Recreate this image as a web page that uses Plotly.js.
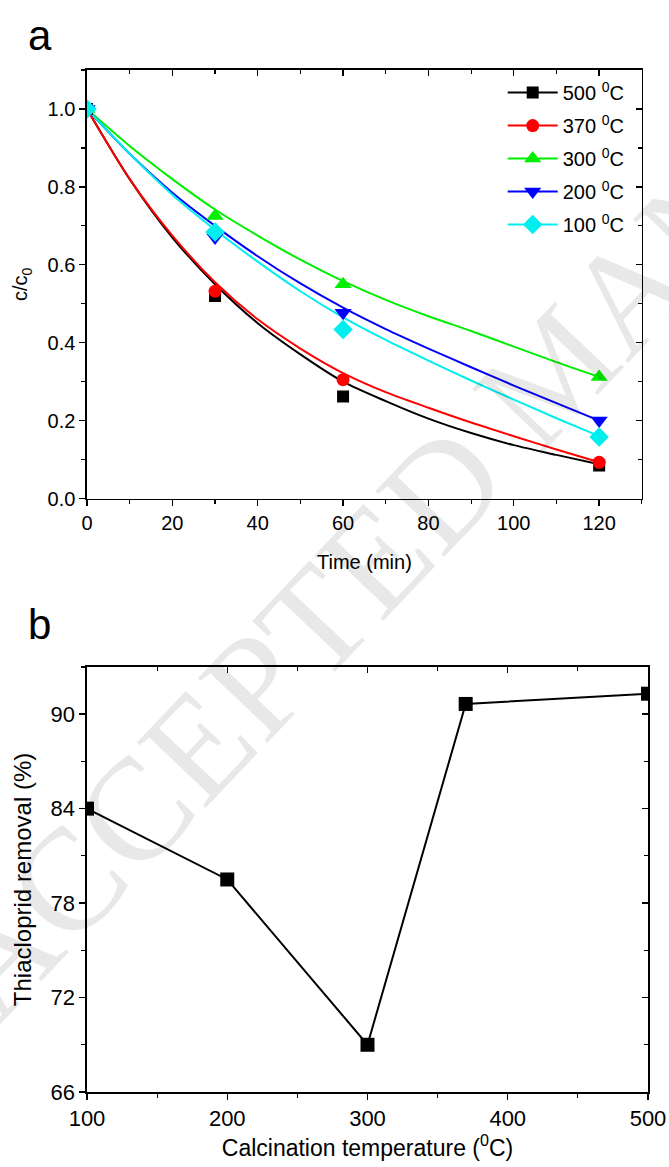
<!DOCTYPE html>
<html>
<head>
<meta charset="utf-8">
<script src="https://cdn.plot.ly/plotly-3.0.1.min.js"></script>
<style>html,body{margin:0;padding:0;background:#fff;}#chart{width:669px;height:1167px;}</style>
</head>
<body>
<div id="chart"></div>
<script>
// ---- Panel a: c/c0 vs time ----
const seriesNames = ['500 <sup>0</sup>C', '370 <sup>0</sup>C', '300 <sup>0</sup>C', '200 <sup>0</sup>C', '100 <sup>0</sup>C'];
const seriesColors = ['#000000', '#ff0000', '#00ee00', '#0000ff', '#00eeee'];
const seriesSymbols = ['square', 'circle', 'triangle-up', 'triangle-down', 'diamond'];

const timePoints = [0, 30, 60, 120];
const c500 = [1.0, 0.520, 0.262, 0.085];
const c370 = [1.0, 0.532, 0.305, 0.093];
const c300 = [1.0, 0.725, 0.550, 0.312];
const c200 = [1.0, 0.670, 0.477, 0.200];
const c100 = [1.0, 0.684, 0.434, 0.158];

// fitted curves
const fitTime = [0, 10, 20, 30, 40, 50, 60, 70, 80, 90, 100, 110, 120];
const fit500 = [1.0, 0.82, 0.67, 0.55, 0.45, 0.37, 0.30, 0.25, 0.205, 0.168, 0.137, 0.112, 0.088];
const fit370 = [1.0, 0.82, 0.675, 0.555, 0.46, 0.385, 0.322, 0.273, 0.233, 0.195, 0.16, 0.126, 0.093];
const fit300 = [1.0, 0.905, 0.82, 0.742, 0.675, 0.613, 0.558, 0.51, 0.468, 0.43, 0.39, 0.35, 0.312];
const fit200 = [1.0, 0.885, 0.785, 0.70, 0.622, 0.552, 0.49, 0.435, 0.385, 0.337, 0.29, 0.245, 0.20];
const fit100 = [1.0, 0.885, 0.78, 0.69, 0.608, 0.532, 0.465, 0.407, 0.354, 0.303, 0.254, 0.206, 0.16];

// ---- Panel b: removal vs calcination temperature ----
const calcTemp = [100, 200, 300, 370, 500];
const removal = [84.0, 79.5, 69.0, 90.65, 91.3];

const pointSets = [c500, c370, c300, c200, c100];
const fitSets = [fit500, fit370, fit300, fit200, fit100];
const markerSizes = [12, 13, 15, 15, 15];

const FONT = 'Liberation Sans, Arial, sans-serif';
const traces = [];
// fitted lines
for (let i = 0; i < 5; i++) {
  traces.push({x: fitTime, y: fitSets[i], mode: 'lines', line: {color: seriesColors[i], width: 2, shape: 'spline', smoothing: 0.8},
    xaxis: 'x', yaxis: 'y', showlegend: false, hoverinfo: 'skip'});
}
// measured points
for (let i = 0; i < 5; i++) {
  traces.push({x: timePoints, y: pointSets[i], mode: 'markers', marker: {color: seriesColors[i], symbol: seriesSymbols[i], size: markerSizes[i]},
    xaxis: 'x', yaxis: 'y', showlegend: false, name: seriesNames[i]});
}
// legend entries
for (let i = 0; i < 5; i++) {
  traces.push({x: [null], y: [null], mode: 'lines+markers', name: seriesNames[i], legendgroup: 'g' + i,
    line: {color: seriesColors[i], width: 2}, marker: {color: seriesColors[i], symbol: seriesSymbols[i], size: markerSizes[i]},
    xaxis: 'x', yaxis: 'y', showlegend: true});
}
// panel b
traces.push({x: calcTemp, y: removal, mode: 'lines+markers', line: {color: '#000', width: 2},
  marker: {color: '#000', symbol: 'square', size: 14}, xaxis: 'x2', yaxis: 'y2', showlegend: false});
// empty traces for mirror axes with inward ticks
traces.push({x: [], y: [], xaxis: 'x3', yaxis: 'y', showlegend: false, hoverinfo: 'skip'});
traces.push({x: [], y: [], xaxis: 'x', yaxis: 'y3', showlegend: false, hoverinfo: 'skip'});
traces.push({x: [], y: [], xaxis: 'x4', yaxis: 'y2', showlegend: false, hoverinfo: 'skip'});
traces.push({x: [], y: [], xaxis: 'x2', yaxis: 'y4', showlegend: false, hoverinfo: 'skip'});

const baseAxis = {
  showline: true, linecolor: '#000', linewidth: 1.6, showgrid: false, zeroline: false,
  ticks: 'outside', ticklen: 6, tickwidth: 1.4, tickcolor: '#000',
  tickfont: {family: FONT, size: 20, color: '#000'}, fixedrange: true
};
function mirrorAxis(extra) {
  return Object.assign({}, baseAxis, {ticks: 'inside', showticklabels: false}, extra);
}
const topDom = [0.5807, 1];
const botDom = [0, 0.4159];
const xTopDom = [0, 0.989];

const layout = {
  width: 669, height: 1167,
  margin: {l: 87, r: 21, t: 70, b: 75},
  paper_bgcolor: '#fff', plot_bgcolor: 'rgba(0,0,0,0)',
  font: {family: FONT, color: '#000'},
  showlegend: true,
  legend: {x: 0.741, y: 0.997, xanchor: 'left', yanchor: 'top', bgcolor: 'rgba(0,0,0,0)',
    font: {family: FONT, size: 20, color: '#000'}, itemwidth: 50, tracegroupgap: 4},
  xaxis: Object.assign({}, baseAxis, {domain: xTopDom, anchor: 'y', range: [0, 130], dtick: 20, tick0: 0,
    minor: {dtick: 10, ticklen: 4, tickwidth: 1.2, tickcolor: '#000', ticks: 'outside'},
    title: {text: 'Time (min)', font: {family: FONT, size: 20}, standoff: 22}}),
  yaxis: Object.assign({}, baseAxis, {domain: topDom, anchor: 'x', range: [0, 1.1], dtick: 0.2, tick0: 0, tickformat: '.1f',
    minor: {dtick: 0.1, ticklen: 4, tickwidth: 1.2, tickcolor: '#000', ticks: 'outside'},
    title: {text: 'c/c<sub>0</sub>', font: {family: FONT, size: 20}, standoff: 14}}),
  xaxis3: mirrorAxis({overlaying: 'x', side: 'top', anchor: 'y', range: [0, 130], dtick: 20, tick0: 0,
    minor: {dtick: 10, ticklen: 4, tickwidth: 1.2, tickcolor: '#000', ticks: 'inside'}}),
  yaxis3: mirrorAxis({overlaying: 'y', side: 'right', anchor: 'x', range: [0, 1.1], dtick: 0.2, tick0: 0,
    minor: {dtick: 0.1, ticklen: 4, tickwidth: 1.2, tickcolor: '#000', ticks: 'inside'}}),
  xaxis2: Object.assign({}, baseAxis, {domain: [0, 1], anchor: 'y2', range: [100, 500], dtick: 100, tick0: 100,
    tickfont: {family: FONT, size: 22, color: '#000'},
    minor: {dtick: 50, ticklen: 4, tickwidth: 1.2, tickcolor: '#000', ticks: 'outside'},
    title: {text: 'Calcination temperature (<sup>0</sup>C)', font: {family: FONT, size: 23}, standoff: 4}}),
  yaxis2: Object.assign({}, baseAxis, {domain: botDom, anchor: 'x2', range: [66, 93], dtick: 6, tick0: 66,
    tickfont: {family: FONT, size: 22, color: '#000'},
    minor: {dtick: 3, ticklen: 4, tickwidth: 1.2, tickcolor: '#000', ticks: 'outside'},
    title: {text: 'Thiacloprid removal (%)', font: {family: FONT, size: 24}, standoff: 12}}),
  xaxis4: mirrorAxis({overlaying: 'x2', side: 'top', anchor: 'y2', range: [100, 500], dtick: 100, tick0: 100,
    minor: {dtick: 50, ticklen: 4, tickwidth: 1.2, tickcolor: '#000', ticks: 'inside'}}),
  yaxis4: mirrorAxis({overlaying: 'y2', side: 'right', anchor: 'x2', range: [66, 93], dtick: 6, tick0: 66,
    minor: {dtick: 3, ticklen: 4, tickwidth: 1.2, tickcolor: '#000', ticks: 'inside'}}),
  annotations: [
    {text: 'ACCEPTED MANUSCRIPT', xref: 'paper', yref: 'paper', x: 0.832, y: 0.7065, xanchor: 'center', yanchor: 'middle',
      textangle: -46.5, showarrow: false, font: {family: 'Liberation Serif, Times New Roman, serif', size: 145, color: 'rgba(0,0,0,0.09)'}},
    {text: 'a', xref: 'paper', yref: 'paper', x: -0.084, y: 1.034, xanchor: 'center', yanchor: 'middle', showarrow: false,
      font: {family: FONT, size: 42, color: '#000'}},
    {text: 'b', xref: 'paper', yref: 'paper', x: -0.084, y: 0.457, xanchor: 'center', yanchor: 'middle', showarrow: false,
      font: {family: FONT, size: 42, color: '#000'}}
  ]
};

Plotly.newPlot('chart', traces, layout, {staticPlot: true, displayModeBar: false});
</script>
</body>
</html>
